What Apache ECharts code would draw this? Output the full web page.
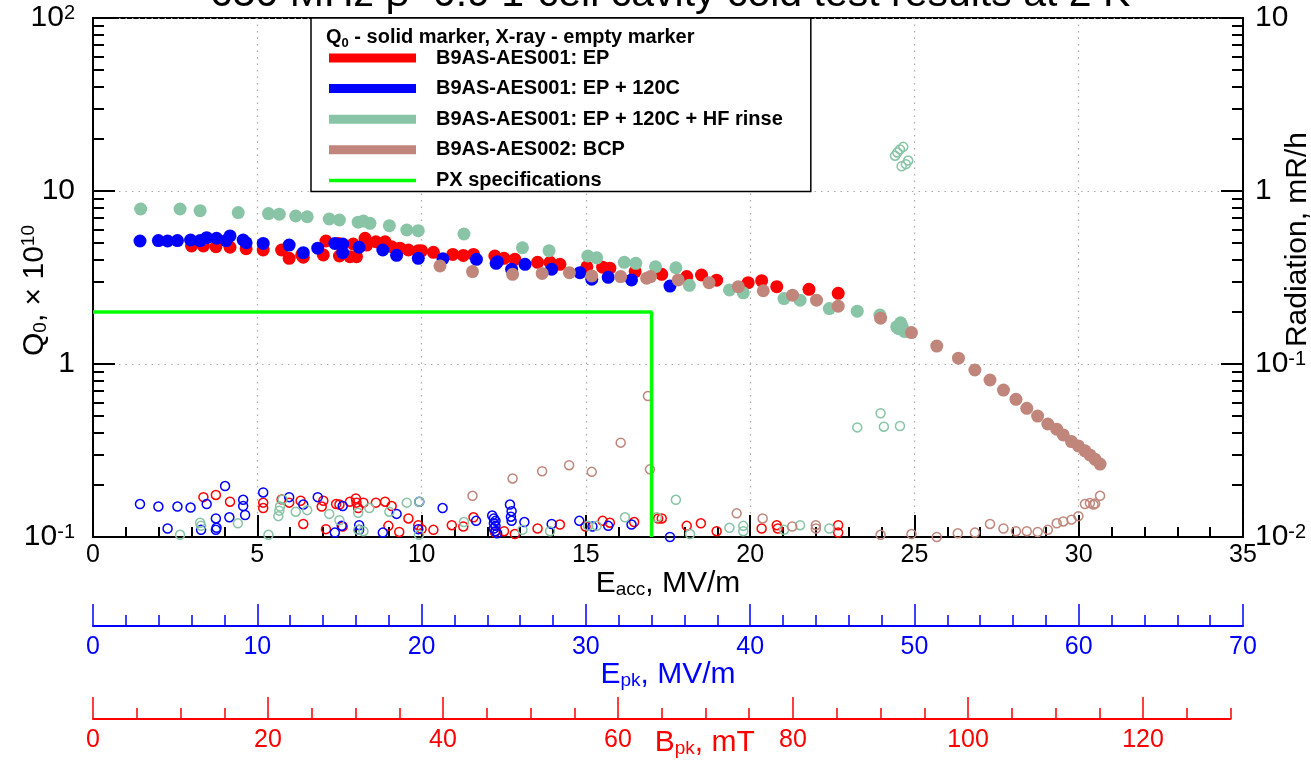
<!DOCTYPE html>
<html><head><meta charset="utf-8">
<script src="https://cdn.jsdelivr.net/npm/echarts@6/dist/echarts.min.js"></script>
<style>html,body{margin:0;padding:0;background:#fff}#c{width:1311px;height:768px}</style>
</head><body><div id="c"></div>
<script>
const titleText = '650 MHz \u03b2=0.9 1-cell cavity cold test results at 2 K';
const legendTitle = 'Q{sub|0} - solid marker, X-ray - empty marker';
const nameEP = 'B9AS-AES001: EP';
const nameEP120 = 'B9AS-AES001: EP + 120C';
const nameHF = 'B9AS-AES001: EP + 120C + HF rinse';
const nameBCP = 'B9AS-AES002: BCP';
const nameSpec = 'PX specifications';

// [Eacc MV/m, Q0 x1e10]
const epQ0 = [[3.0,4.81],[3.36,4.81],[3.74,4.76],[4.17,4.73],[4.66,4.64],[5.18,4.56],[5.74,4.56],[5.97,4.08],[6.35,4.27],[6.4,4.14],[7.01,4.27],[7.09,5.14],[7.47,4.98],[7.5,4.21],[7.82,4.17],[8.02,4.17],[7.92,4.94],[8.28,5.33],[8.33,4.87],[8.61,5.09],[8.89,5.09],[9.09,4.76],[9.34,4.67],[9.6,4.56],[9.9,4.52],[10.0,4.52],[10.36,4.42],[10.95,4.3],[11.27,4.24],[11.58,4.3],[12.23,4.21],[12.51,4.08],[12.84,4.03],[13.53,3.87],[13.91,3.87],[14.21,3.77],[15.03,3.65],[15.51,3.63],[15.73,3.58],[16.5,3.42],[17.31,3.3],[18.07,3.2],[18.52,3.27],[18.98,3.05],[19.94,2.95],[20.35,3.03],[20.81,2.8],[21.79,2.7],[22.68,2.56]];
const ep120Q0 = [[1.43,5.14],[1.99,5.17],[2.27,5.14],[2.57,5.17],[2.97,5.21],[3.26,5.17],[3.46,5.37],[3.76,5.33],[4.05,5.17],[4.17,5.5],[4.57,5.21],[4.66,5.02],[5.18,4.98],[5.97,4.87],[6.4,4.4],[6.84,4.67],[7.36,4.98],[7.6,4.94],[7.6,4.4],[8.1,4.73],[8.82,4.56],[9.24,4.25],[9.9,4.08],[10.65,4.06],[11.67,4.03],[12.27,3.82],[12.31,3.9],[12.74,3.53],[13.15,3.77],[13.96,3.53],[14.82,3.37],[15.18,3.09],[15.68,3.17],[16.39,3.06],[17.56,2.82]];
const hfQ0 = [[1.45,7.87],[2.65,7.87],[3.26,7.7],[4.42,7.5],[5.34,7.4],[5.67,7.35],[6.17,7.17],[6.52,7.1],[7.19,6.89],[7.5,6.8],[8.07,6.6],[8.23,6.7],[8.43,6.5],[9.02,6.3],[9.55,5.95],[9.9,5.9],[11.29,5.64],[13.07,4.7],[13.88,4.52],[15.06,4.21],[15.33,4.11],[16.17,3.87],[16.52,3.82],[17.12,3.65],[17.74,3.6],[18.15,2.85],[19.37,2.68],[19.79,2.58],[21.03,2.39],[21.52,2.34],[22.41,2.09],[23.26,2.02],[23.95,1.92],[24.46,1.64],[24.58,1.73],[24.66,1.57],[24.71,1.54],[24.52,1.6],[24.62,1.66]];
const bcpQ0 = [[10.56,3.69],[11.55,3.42],[12.77,3.3],[13.67,3.34],[14.5,3.37],[15.18,3.23],[16.06,3.2],[16.85,3.13],[16.97,3.2],[17.81,3.06],[18.75,2.95],[19.64,2.8],[20.4,2.65],[21.29,2.5],[22.02,2.34],[22.68,2.16],[23.97,1.84],[24.91,1.52],[25.68,1.27],[26.34,1.08],[26.84,0.923],[27.3,0.808],[27.71,0.707],[28.09,0.625],[28.42,0.554],[28.75,0.5],[29.06,0.45],[29.33,0.42],[29.53,0.389],[29.78,0.356],[29.99,0.336],[30.19,0.315],[30.34,0.298],[30.5,0.281],[30.65,0.264]];

// [Eacc MV/m, radiation mR/h]
const epXray = [[3.36,0.0170],[3.74,0.0175],[4.17,0.0160],[5.18,0.0158],[5.18,0.0147],[5.74,0.0165],[5.97,0.0158],[6.32,0.0162],[6.4,0.0119],[6.96,0.0150],[7.01,0.0162],[7.09,0.0111],[7.4,0.0155],[7.5,0.0154],[7.6,0.0115],[7.82,0.0160],[8.0,0.0167],[8.02,0.0158],[8.07,0.0147],[8.23,0.0158],[8.61,0.0158],[8.89,0.0160],[8.99,0.0116],[9.09,0.0151],[9.32,0.0107],[9.6,0.0128],[9.9,0.0117],[10.0,0.0111],[10.36,0.0110],[10.92,0.0117],[11.27,0.0115],[11.58,0.0130],[12.23,0.0107],[12.51,0.0108],[12.84,0.0104],[13.53,0.0112],[14.21,0.0118],[14.99,0.0115],[15.51,0.0124],[15.73,0.0121],[16.47,0.0122],[17.2,0.0128],[17.31,0.0128],[18.07,0.0116],[18.5,0.0120],[18.98,0.0108],[19.94,0.0099],[20.35,0.0112],[20.81,0.0117],[20.84,0.0112],[21.79,0.0099],[22.68,0.0117],[22.68,0.0106]];
const ep120Xray = [[1.43,0.0155],[1.99,0.0150],[2.27,0.0112],[2.57,0.0150],[2.97,0.0148],[3.29,0.0110],[3.46,0.0155],[3.74,0.0128],[3.74,0.0110],[3.76,0.0113],[4.02,0.0197],[4.15,0.0130],[4.57,0.0164],[4.57,0.0151],[4.63,0.0134],[5.18,0.0181],[5.97,0.0170],[6.4,0.0154],[6.84,0.0170],[7.36,0.0106],[7.57,0.0116],[7.6,0.0151],[8.1,0.0117],[8.1,0.0110],[8.82,0.0106],[9.24,0.0136],[9.9,0.0111],[9.93,0.0160],[10.64,0.0147],[11.66,0.0124],[12.15,0.0133],[12.2,0.0128],[12.25,0.0124],[12.2,0.0120],[12.25,0.0116],[12.2,0.0112],[12.25,0.0108],[12.3,0.0105],[12.69,0.0154],[12.74,0.0141],[12.72,0.0131],[12.74,0.0124],[13.13,0.0122],[13.96,0.0119],[14.8,0.0124],[15.2,0.0115],[15.68,0.0116],[16.39,0.0118],[17.56,0.0100]];
const hfXray = [[1.45,0.0099],[2.65,0.0103],[3.26,0.0121],[3.29,0.0116],[4.41,0.0120],[5.34,0.0103],[5.64,0.0132],[5.67,0.0142],[5.69,0.0150],[5.77,0.0165],[6.17,0.0140],[6.52,0.0143],[7.19,0.0136],[7.5,0.0125],[8.07,0.0138],[8.07,0.0110],[8.23,0.0108],[8.41,0.0147],[9.02,0.0140],[9.55,0.0158],[9.93,0.0160],[9.92,0.0103],[11.29,0.0122],[13.07,0.0110],[13.91,0.0108],[15.07,0.0116],[15.33,0.0116],[16.19,0.0130],[17.16,0.0130],[17.74,0.0164],[18.17,0.0104],[19.37,0.0113],[19.79,0.0116],[19.79,0.0108],[21.03,0.0110],[21.03,0.0098],[21.52,0.0117],[22.41,0.0112],[23.26,0.043],[23.97,0.0519],[24.07,0.0434],[24.56,0.0438],[24.41,1.6],[24.48,1.67],[24.56,1.74],[24.66,1.8],[24.81,1.5],[24.74,1.43],[24.61,1.39]];
const bcpXray = [[11.55,0.0173],[12.77,0.0218],[13.67,0.0240],[14.49,0.0260],[15.18,0.0238],[16.06,0.0351],[16.89,0.0653],[16.95,0.0246],[19.59,0.0137],[20.38,0.0128],[21.28,0.0115],[22.0,0.0117],[22.0,0.0112],[23.97,0.0103],[24.91,0.0104],[25.68,0.0100],[26.32,0.0105],[26.84,0.0106],[27.3,0.0119],[27.71,0.0112],[28.09,0.0108],[28.42,0.0108],[28.75,0.0107],[29.06,0.0110],[29.33,0.0120],[29.53,0.0123],[29.78,0.0126],[29.99,0.0132],[30.19,0.0155],[30.34,0.0157],[30.45,0.0154],[30.5,0.0156],[30.65,0.0173]];

const pxSpec = [[0,2],[17,2],[17,0.1]];

const leftMinorTicks = [0.2,0.3,0.4,0.5,0.6,0.7,0.8,0.9,2,3,4,5,6,7,8,9,20,30,40,50,60,70,80,90];
const rightMinorTicks = [0.02,0.03,0.04,0.05,0.06,0.07,0.08,0.09,0.2,0.3,0.4,0.5,0.6,0.7,0.8,0.9,2,3,4,5,6,7,8,9];
const bpkMajorTicks = [0,20,40,60,80,100,120];
const bpkMinorTicks = [5,10,15,25,30,35,45,50,55,65,70,75,85,90,95,105,110,115,125,130];

const colEP = '#ff0000', colEP120 = '#0000ff', colHF = '#88c4a5', colBCP = '#c0867b', colSpec = '#00ff00';
const FF = 'Liberation Sans, Arial, sans-serif';

function logLabel(v) {
  const e = Math.round(Math.log10(v));
  if (e === 0) return '1';
  if (e === 1) return '10';
  return '10{sup|' + e + '}';
}
const supRich = { sup: { fontSize: 20, fontFamily: FF, color: '#000', verticalAlign: 'top', lineHeight: 16 } };

const chart = echarts.init(document.getElementById('c'), null, { renderer: 'canvas' });

function solid(name, data, color) {
  return { type: 'scatter', name, data, xAxisIndex: 0, yAxisIndex: 0, symbol: 'circle', symbolSize: 13,
    itemStyle: { color, opacity: 1 }, emphasis: { disabled: true }, silent: true };
}
function hollow(name, data, color) {
  return { type: 'scatter', name, data, xAxisIndex: 0, yAxisIndex: 1, symbol: 'circle', symbolSize: 9,
    itemStyle: { color: 'rgba(0,0,0,0)', borderColor: color, borderWidth: 1.5, opacity: 1 }, emphasis: { disabled: true }, silent: true };
}
function subRich(color) {
  return { sub: { fontSize: 19, color, fontFamily: FF, verticalAlign: 'bottom', padding: [12, 0, 0, 0] },
           sup: { fontSize: 19, color, fontFamily: FF, verticalAlign: 'top', padding: [0, 0, 12, 0] } };
}

const option = {
  animation: false,
  backgroundColor: '#fff',
  textStyle: { fontFamily: FF },
  title: [
    { text: titleText, left: 205, top: -31, textStyle: { fontSize: 41, fontWeight: 'normal', color: '#000', fontFamily: FF } },
    { text: legendTitle, left: 321, top: 20, z: 10, textStyle: { fontSize: 20, fontWeight: 'bold', color: '#000', fontFamily: FF,
      rich: { sub: { fontSize: 13, fontWeight: 'bold', verticalAlign: 'bottom', padding: [12, 0, 0, 0], fontFamily: FF } } } }
  ],
  legend: {
    left: 311, top: 18, orient: 'vertical', selectedMode: false,
    padding: [30, 28, 1, 18], itemGap: 10.6, itemWidth: 87, itemHeight: 9,
    backgroundColor: '#fff', borderColor: '#000', borderWidth: 1.5, z: 8,
    textStyle: { fontSize: 20, fontWeight: 'bold', color: '#000', fontFamily: FF, lineHeight: 20, padding: [0, 0, 0, 15] },
    data: [
      { name: nameEP, icon: 'rect', itemStyle: { color: colEP, borderWidth: 0 } },
      { name: nameEP120, icon: 'rect', itemStyle: { color: colEP120, borderWidth: 0 } },
      { name: nameHF, icon: 'rect', itemStyle: { color: colHF, borderWidth: 0 } },
      { name: nameBCP, icon: 'rect', itemStyle: { color: colBCP, borderWidth: 0 } },
      { name: nameSpec, icon: 'path://M0,0h87v3.5h-87z', itemStyle: { color: colSpec, borderWidth: 0 } }
    ]
  },
  grid: [
    { left: 93, right: 68, top: 18, bottom: 231, show: true, borderColor: '#000', borderWidth: 2, backgroundColor: 'transparent', containLabel: false, outerBoundsMode: 'none' },
    { left: 93, width: 1150, top: 566, height: 60, show: false, containLabel: false, outerBoundsMode: 'none' },
    { left: 93, width: 1137.5, top: 659, height: 60, show: false, containLabel: false, outerBoundsMode: 'none' }
  ],
  xAxis: [
    { type: 'value', gridIndex: 0, min: 0, max: 35, interval: 5, position: 'bottom',
      name: 'E{sub|acc}, MV/m', nameLocation: 'middle', nameGap: 31, nameMoveOverlap: false,
      nameTextStyle: { fontSize: 30, color: '#000', fontFamily: FF, rich: subRich('#000') },
      axisLine: { show: true, lineStyle: { color: '#000', width: 2 } },
      axisTick: { show: true, inside: true, length: 22, lineStyle: { color: '#000', width: 2 } },
      minorTick: { show: true, splitNumber: 5, length: 10, lineStyle: { color: '#000', width: 2 } },
      axisLabel: { fontSize: 25, color: '#000', margin: 6, fontFamily: FF },
      splitLine: { show: true, lineStyle: { color: '#aaa', type: [1.5, 5], width: 1.2 } } },
    { type: 'value', gridIndex: 1, min: 0, max: 70, interval: 10, position: 'bottom',
      name: 'E{sub|pk}, MV/m', nameLocation: 'middle', nameGap: 33, nameMoveOverlap: false,
      nameTextStyle: { fontSize: 30, color: '#0000ff', fontFamily: FF, rich: subRich('#0000ff') },
      axisLine: { show: true, lineStyle: { color: '#0000ff', width: 2 } },
      axisTick: { show: true, inside: true, length: 22, lineStyle: { color: '#0000ff', width: 1.5 } },
      minorTick: { show: true, splitNumber: 5, length: 11, lineStyle: { color: '#0000ff', width: 1.5 } },
      axisLabel: { fontSize: 25, color: '#0000ff', margin: 9, fontFamily: FF },
      splitLine: { show: false } },
    { type: 'value', gridIndex: 2, min: 0, max: 130, position: 'bottom',
      name: 'B{sub|pk}, mT', nameLocation: 'middle', nameGap: 8, nameMoveOverlap: false,
      nameTextStyle: { fontSize: 30, color: '#ff0000', fontFamily: FF, padding: [0, 0, 0, 86], rich: subRich('#ff0000') },
      axisLine: { show: true, lineStyle: { color: '#ff0000', width: 2 } },
      axisTick: { show: true, inside: true, length: 22, customValues: bpkMajorTicks, lineStyle: { color: '#ff0000', width: 1.5 } },
      axisLabel: { fontSize: 25, color: '#ff0000', margin: 9, fontFamily: FF, customValues: bpkMajorTicks },
      splitLine: { show: false } },
    { type: 'value', gridIndex: 2, min: 0, max: 130, position: 'bottom',
      axisLine: { show: false },
      axisTick: { show: true, inside: true, length: 11, customValues: bpkMinorTicks, lineStyle: { color: '#ff0000', width: 1.5 } },
      axisLabel: { show: false },
      splitLine: { show: false } }
  ],
  yAxis: [
    { type: 'log', gridIndex: 0, min: 0.1, max: 100, position: 'left',
      name: 'Q{sub|0}, \u00d7 10{sup|10}', nameLocation: 'middle', nameGap: 43, nameMoveOverlap: false,
      nameTextStyle: { fontSize: 30, color: '#000', fontFamily: FF, padding: [0, 26, 0, 0], rich: subRich('#000') },
      axisLine: { show: true, lineStyle: { color: '#000', width: 2 } },
      axisTick: { show: true, inside: true, length: 22, lineStyle: { color: '#000', width: 2 } },
      axisLabel: { fontSize: 30, color: '#000', margin: 18, fontFamily: FF, formatter: v => logLabel(v), rich: supRich },
      splitLine: { show: true, lineStyle: { color: '#aaa', type: [1.5, 5], width: 1.2 } } },
    { type: 'log', gridIndex: 0, min: 0.01, max: 10, position: 'right',
      name: 'Radiation, mR/h', nameLocation: 'middle', nameGap: 40, nameMoveOverlap: false,
      nameTextStyle: { fontSize: 30, color: '#000', fontFamily: FF, padding: [0, 0, 0, 76] },
      axisLine: { show: true, lineStyle: { color: '#000', width: 2 } },
      axisTick: { show: true, inside: true, length: 22, lineStyle: { color: '#000', width: 2 } },
      axisLabel: { fontSize: 30, color: '#000', margin: 12, fontFamily: FF, formatter: v => logLabel(v), rich: supRich },
      splitLine: { show: false } },
    { type: 'log', gridIndex: 0, min: 0.1, max: 100, position: 'left',
      axisLine: { show: false }, axisLabel: { show: false }, splitLine: { show: false },
      axisTick: { show: true, inside: true, length: 11, customValues: leftMinorTicks, lineStyle: { color: '#000', width: 2 } } },
    { type: 'log', gridIndex: 0, min: 0.01, max: 10, position: 'right',
      axisLine: { show: false }, axisLabel: { show: false }, splitLine: { show: false },
      axisTick: { show: true, inside: true, length: 11, customValues: rightMinorTicks, lineStyle: { color: '#000', width: 2 } } },
    { type: 'value', gridIndex: 1, show: false },
    { type: 'value', gridIndex: 2, show: false }
  ],
  series: [
    solid(nameEP, epQ0, colEP),
    solid(nameEP120, ep120Q0, colEP120),
    solid(nameHF, hfQ0, colHF),
    solid(nameBCP, bcpQ0, colBCP),
    hollow(nameEP, epXray, colEP),
    hollow(nameEP120, ep120Xray, colEP120),
    hollow(nameHF, hfXray, colHF),
    hollow(nameBCP, bcpXray, colBCP),
    { type: 'line', name: nameSpec, data: pxSpec, xAxisIndex: 0, yAxisIndex: 0, symbol: 'none', silent: true,
      lineStyle: { color: colSpec, width: 3.5 }, itemStyle: { color: colSpec }, z: 3 }
  ]
};
chart.setOption(option);
</script>
</body></html>
